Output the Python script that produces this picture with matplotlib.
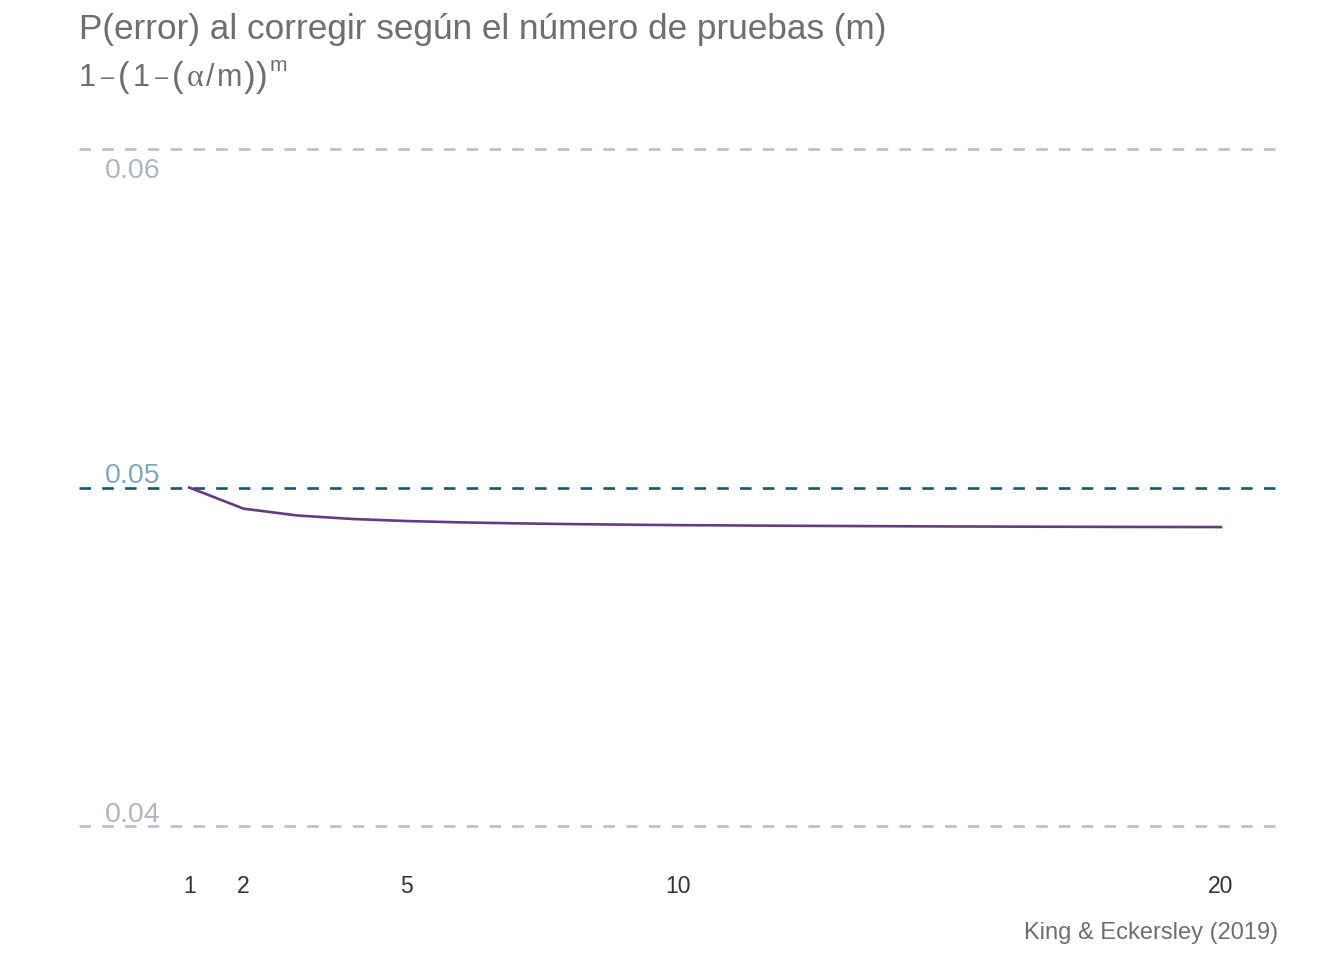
import matplotlib
matplotlib.use("Agg")
import matplotlib.pyplot as plt

# Data: m (number of tests) and P(error) = 1-(1-alpha/m)^m
m_values = [1, 2, 3, 4, 5, 6, 7, 8, 9, 10, 11, 12, 13, 14, 15, 16, 17, 18, 19, 20]
p_error = [0.050000, 0.049375, 0.049172, 0.049071, 0.049010, 0.048970, 0.048942,
           0.048920, 0.048903, 0.048889, 0.048880, 0.048870, 0.048863, 0.048856,
           0.048850, 0.048845, 0.048841, 0.048837, 0.048834, 0.048831]
x_ticks = [1, 2, 5, 10, 20]
ref_levels = [0.04, 0.05, 0.06]
ref_labels = ["0.04", "0.05", "0.06"]

plt.rcParams['font.family'] = ['Liberation Sans', 'DejaVu Sans']
plt.rcParams['lines.scale_dashes'] = False

W, H = 1344, 960
fig = plt.figure(figsize=(W / 100, H / 100), dpi=100)
left, right, top, bottom = 79, 1278, 115, 860
ax = fig.add_axes([left / W, 1 - bottom / H, (right - left) / W, (bottom - top) / H])

ax.set_xlim(-1.03, 21.05)
ax.set_ylim(0.039, 0.061)

grey_line = '#b8bfc8'
mid_line = '#1b5470'
dash = (0, (8.3, 8.1))
ax.axhline(ref_levels[0], color=grey_line, lw=1.9, ls=dash, zorder=1)
ax.axhline(ref_levels[2], color=grey_line, lw=1.9, ls=dash, zorder=1)
ax.axhline(ref_levels[1], color=mid_line, lw=1.9, ls=dash, zorder=1)

ax.plot(m_values, p_error, color='#643a80', lw=1.9, zorder=3)

# Reference level labels
tx = (105 - left) / (right - left)
label_cfg = {
    "0.06": dict(color='#aeb6c1', dy=-29),
    "0.05": dict(color='#7fa8bd', dy=5),
    "0.04": dict(color='#aeb6c1', dy=4),
}
for lvl, lab in zip(ref_levels, ref_labels):
    c = label_cfg[lab]
    ax.annotate(lab, xy=(tx, lvl), xycoords=('axes fraction', 'data'),
                xytext=(0, c['dy'] * 0.72), textcoords='offset points',
                ha='left', va='baseline', fontsize=20.5, color=c['color'])

ax.set_xticks(x_ticks)
ax.set_xticklabels([str(t) for t in x_ticks])
ax.tick_params(axis='x', length=0, pad=11, labelsize=16.5, labelcolor='#333333')
ax.set_yticks([])
for s in ax.spines.values():
    s.set_visible(False)

txt_col = '#6e6e6e'
fig.text(left / W, 1 - 30 / H, "P(error) al corregir según el número de pruebas (m)",
         ha='left', va='center', fontsize=25.3, color=txt_col)
fig.text(right / W, 1 - 933 / H, "King & Eckersley (2019)",
         ha='right', va='center', fontsize=17, color=txt_col)

# Subtitle formula 1 - (1 - (alpha/m))^m, composed piece by piece
renderer = fig.canvas.get_renderer()
base_y = 86
sans = ['Liberation Sans']
serif = ['Liberation Serif', 'DejaVu Serif']
pieces = [
    ("1", 22, 0, sans, 5),
    ("–", 17, -2, sans, 4),
    ("(", 25, 1, sans, 3),
    ("1", 22, 0, sans, 5),
    ("–", 17, -2, sans, 4),
    ("(", 25, 1, sans, 3),
    ("α", 23, 0, serif, 3),
    ("/", 22, 0, sans, 2),
    ("m", 22, 0, sans, 1),
    (")", 25, 1, sans, 1),
    (")", 25, 1, sans, 2),
    ("m", 15, -15, sans, 0),
]
x = left
for s, size, dy, fam, gap in pieces:
    t = fig.text(x / W, 1 - (base_y + dy) / H, s, ha='left', va='baseline',
                 fontsize=size, family=fam, color=txt_col)
    bb = t.get_window_extent(renderer)
    x = bb.x1 + gap

fig.savefig("out.png", dpi=100)
